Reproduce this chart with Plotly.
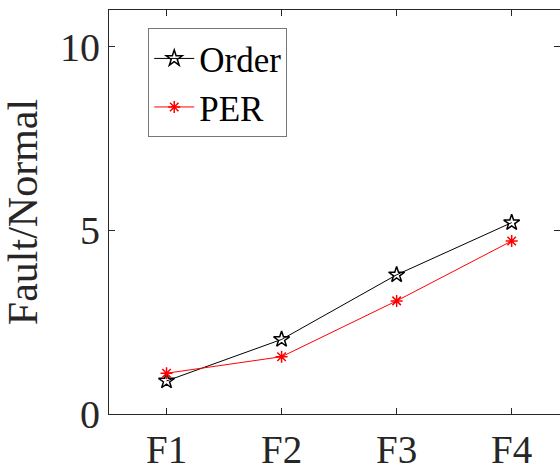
import plotly.graph_objects as go

# Fault-to-normal ratio for each fault case
categories = ["F1", "F2", "F3", "F4"]
order_vals = [0.90, 2.03, 3.79, 5.21]
per_vals = [1.11, 1.56, 3.08, 4.71]
y_ticks = [0, 5, 10]

x_pos = list(range(1, len(categories) + 1))
font_family = "Liberation Serif"
axis_color = "#262626"

fig = go.Figure()
fig.add_trace(go.Scatter(
    x=x_pos, y=order_vals, name="Order", mode="lines+markers",
    line=dict(color="black", width=1),
    marker=dict(symbol="star-open", size=12, color="black",
                line=dict(color="black", width=1.5)),
))
fig.add_trace(go.Scatter(
    x=x_pos, y=per_vals, name="PER", mode="lines+markers",
    line=dict(color="red", width=1),
    marker=dict(symbol="asterisk-open", size=10, color="red",
                line=dict(color="red", width=1.5)),
))

fig.update_layout(
    width=560, height=469,
    margin=dict(l=109, r=0, t=10, b=55, autoexpand=False),
    paper_bgcolor="white", plot_bgcolor="white",
    font=dict(family=font_family, size=36, color="black"),
    showlegend=True,
    legend=dict(
        x=0.087, y=0.955, xanchor="left", yanchor="top",
        bgcolor="white", bordercolor="#777777", borderwidth=1,
        font=dict(family=font_family, size=35, color="black"),
        tracegroupgap=0, itemwidth=40,
    ),
    xaxis=dict(
        range=[0.5, 4.42], tickmode="array", tickvals=x_pos, ticktext=categories,
        showgrid=False, zeroline=False, showline=True, linecolor=axis_color,
        linewidth=1.2, mirror="ticks", ticks="inside", ticklen=6,
        tickcolor=axis_color, tickfont=dict(family=font_family, size=39, color=axis_color),
        ticklabelstandoff=1, automargin=False,
    ),
    yaxis=dict(
        range=[0, 11], tickmode="array", tickvals=y_ticks,
        showgrid=False, zeroline=False, showline=True, linecolor=axis_color,
        linewidth=1.2, mirror="ticks", ticks="inside", ticklen=6,
        tickcolor=axis_color, tickfont=dict(family=font_family, size=40, color=axis_color),
        ticklabelstandoff=0, automargin=False,
        title=dict(text="Fault/Normal",
                   font=dict(family=font_family, size=42, color=axis_color),
                   standoff=14),
    ),
)

fig.write_html("out.html")
